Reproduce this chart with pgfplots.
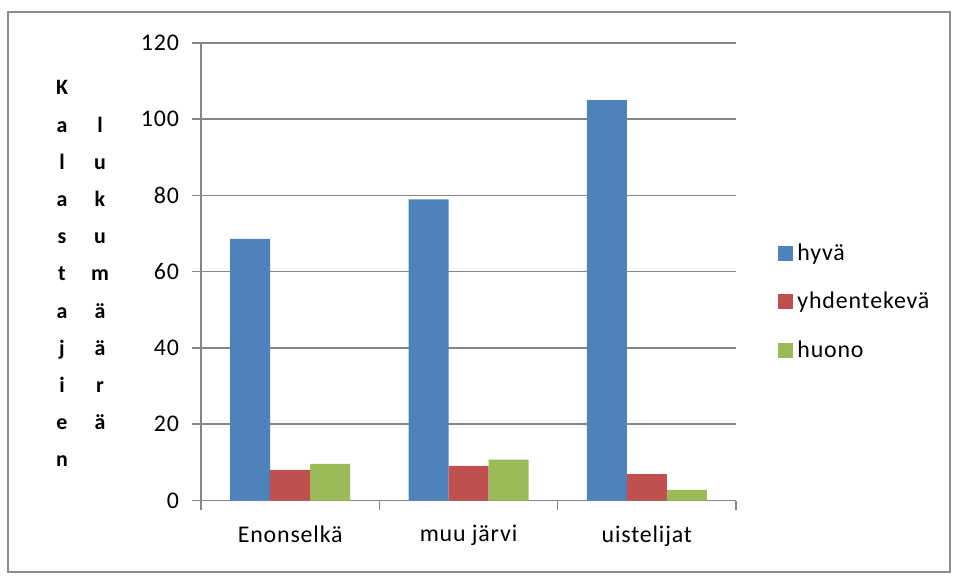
\documentclass[border=0pt]{standalone}
\usepackage{fontspec}
\setmainfont{Carlito}[LetterSpace=3.5]
\usepackage{pgfplots}
\pgfplotsset{compat=1.18}
\definecolor{cblue}{HTML}{4F81BD}
\definecolor{cred}{HTML}{C0504D}
\definecolor{cgreen}{HTML}{9BBB59}
\definecolor{gridgray}{HTML}{868686}
\definecolor{bordergray}{HTML}{8C8C8C}
\begin{document}
\begin{tikzpicture}
\useasboundingbox (0,0) rectangle (478bp,290bp);
\draw[color=bordergray, line width=0.9bp] (4bp,4bp) rectangle (475bp,284bp);
\begin{axis}[
  at={(100.5bp,39.75bp)}, anchor=south west,
  scale only axis, width=267.5bp, height=228.75bp,
  xmin=-0.5, xmax=2.5, ymin=0, ymax=120,
  ytick={0,20,...,120},
  xtick={-0.5,0.5,1.5,2.5}, xticklabels={,,,},
  extra x ticks={0,1,2},
  extra x tick labels={Enonselkä, muu järvi, uistelijat},
  extra x tick style={major tick length=0pt, xticklabel style={yshift=-9bp}},
  tick align=outside,
  major tick length=4.5bp,
  ymajorgrids, grid style={gridgray, line width=0.75bp},
  axis x line*=bottom, axis y line*=left,
  axis line style={gridgray, line width=0.75bp, -},
  tick style={gridgray, line width=0.75bp},
  tick label style={font=\fontsize{12}{14}\selectfont, black},
  yticklabel style={xshift=-3bp},
  /pgf/number format/assume math mode=true,
  ybar=0pt, bar width=20bp,
  legend cell align=left,
  legend style={at={(1.0785,0.434)}, anchor=west, draw=none, fill=none,
    font=\fontsize{12}{14}\selectfont, row sep=10.5bp, inner sep=0pt,
    /tikz/every even column/.append style={column sep=0bp}},
  legend image code/.code={\fill[#1] (0bp,-3.75bp) rectangle (7.5bp,3.75bp);},
]
\addplot[fill=cblue, draw=none] coordinates {(0,68.6) (1,79) (2,105)};
\addplot[fill=cred, draw=none] coordinates {(0,8) (1,9.1) (2,6.9)};
\addplot[fill=cgreen, draw=none] coordinates {(0,9.6) (1,10.7) (2,2.8)};
\legend{hyvä, yhdentekevä, huono}
\end{axis}
\foreach \ch [count=\i] in {K,a,l,a,s,t,a,j,i,e,n}
  \node[anchor=base, inner sep=0pt, font=\bfseries\fontsize{11}{13}\selectfont]
    at (31bp, {290bp-(95+(\i-1)*37.2)*0.5bp}) {\ch};
\foreach \ch [count=\i] in {l,u,k,u,m,ä,ä,r,ä}
  \node[anchor=base, inner sep=0pt, font=\bfseries\fontsize{11}{13}\selectfont]
    at (50bp, {290bp-(95+\i*37.2)*0.5bp}) {\ch};
\end{tikzpicture}
\end{document}
